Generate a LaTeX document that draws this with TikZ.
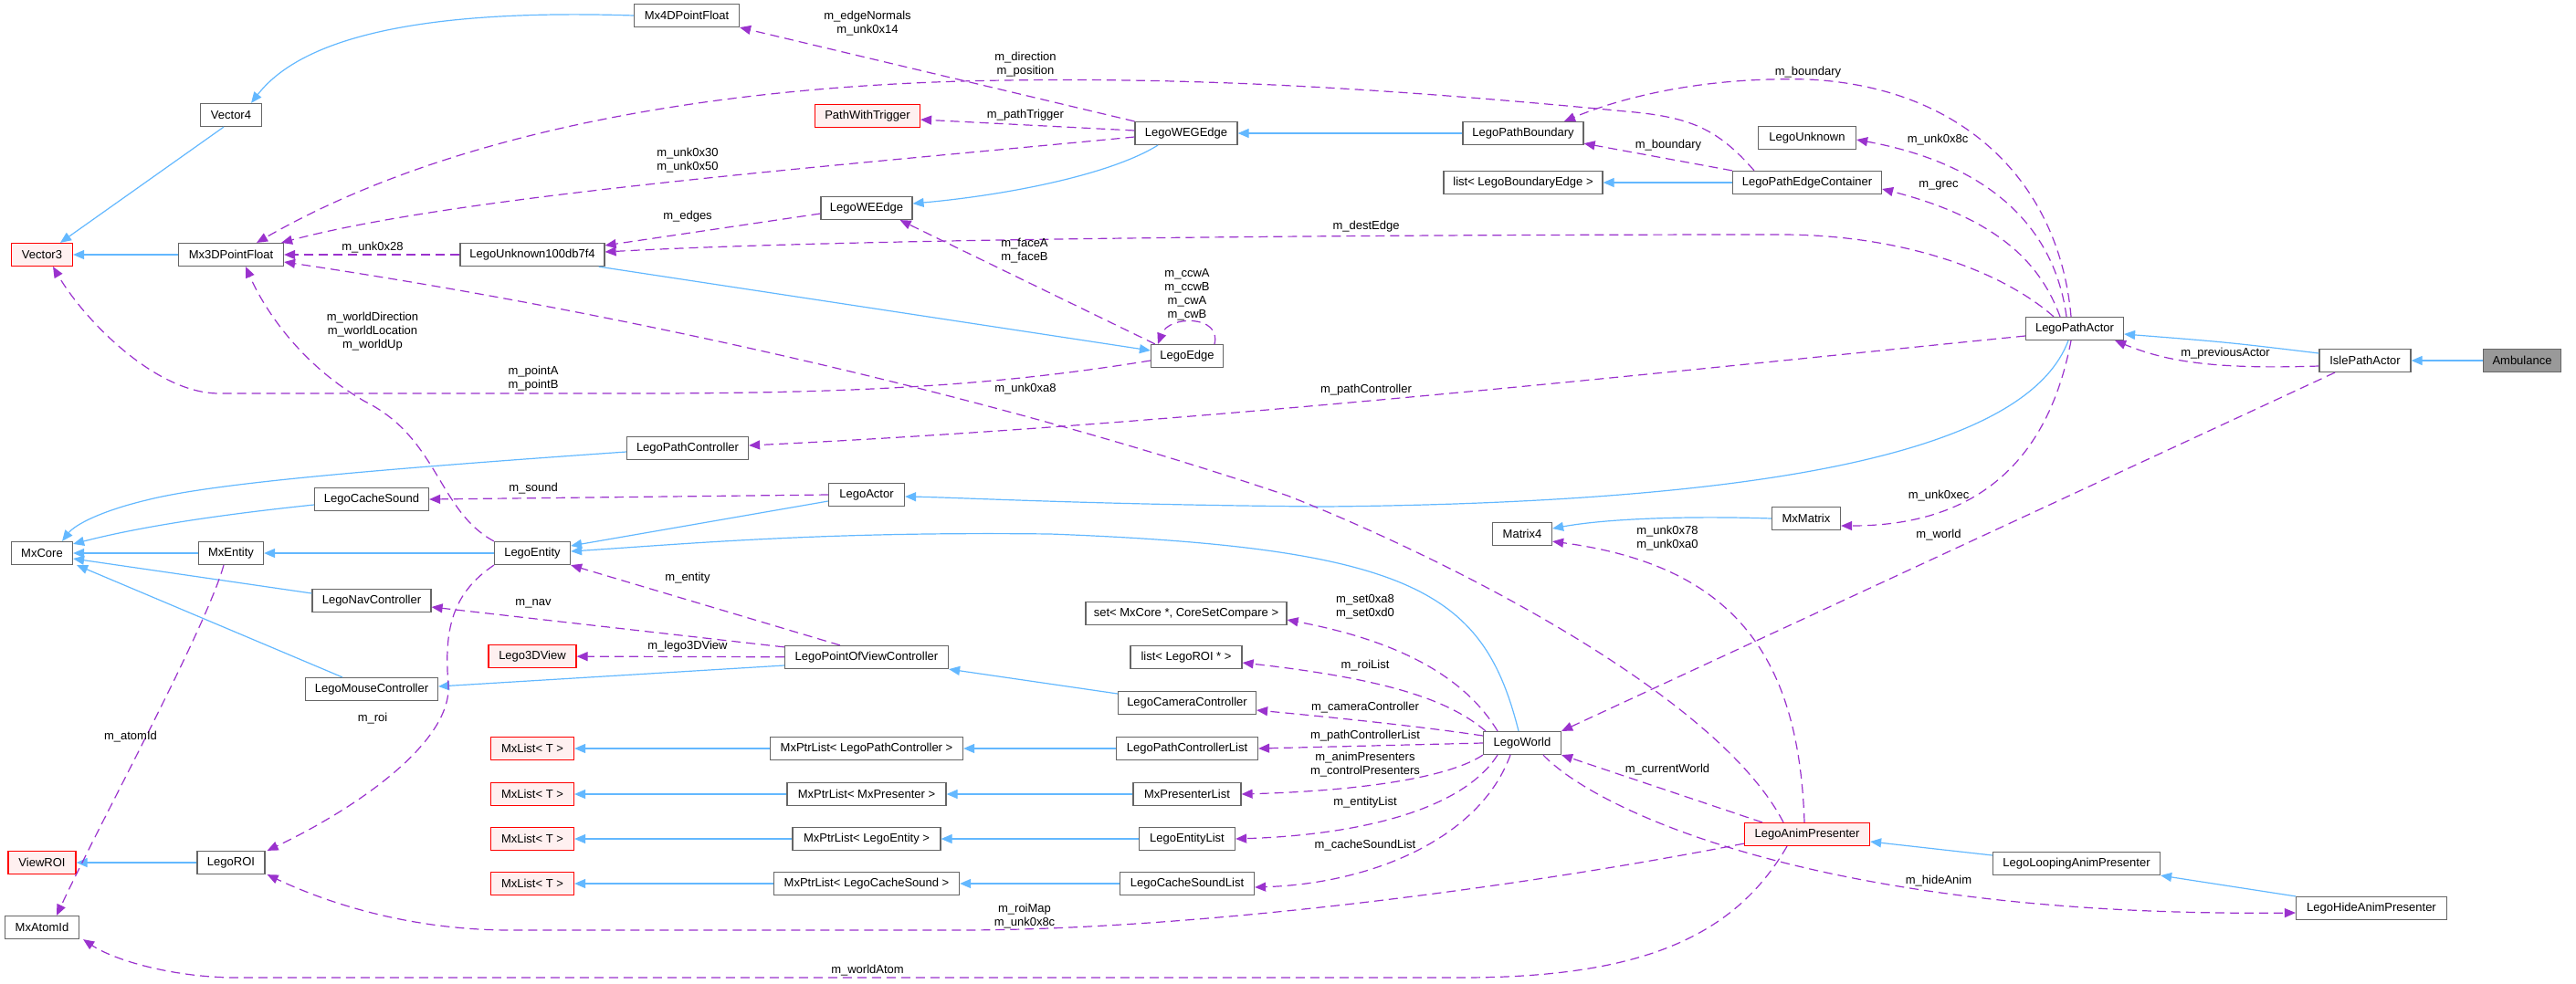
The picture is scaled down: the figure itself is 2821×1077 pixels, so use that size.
\documentclass[tikz,border=0pt]{standalone}
\usepackage{fontspec}
\setmainfont{Liberation Sans}
\usetikzlibrary{arrows.meta}
\definecolor{inhblue}{HTML}{63B8FF}
\definecolor{usepurple}{HTML}{9A32CD}
\definecolor{boxgray}{HTML}{666666}
\definecolor{redfill}{HTML}{FFF0F0}
\definecolor{curfill}{HTML}{999999}

\tikzstyle{cls} = [rectangle, draw=boxgray, fill=white, line width=1.2pt, minimum height=25pt, inner xsep=3pt, inner ysep=0pt, font=\fontsize{13}{15}\selectfont]
\tikzstyle{redcls} = [cls, draw=red, fill=redfill]
\tikzstyle{curcls} = [cls, fill=curfill]
\tikzstyle{inherit} = [draw=inhblue, line width=1.2pt, -{Triangle[length=12pt,width=10pt]}]
\tikzstyle{member} = [draw=usepurple, line width=1.2pt, dash pattern=on 10pt off 6pt, -{Triangle[length=12pt,width=10pt]}]
\tikzstyle{lbl} = [inner sep=0pt, align=center, font=\fontsize{13}{15}\selectfont]

\begin{document}
\begin{tikzpicture}[x=1pt, y=-1pt]
      \useasboundingbox (0,0) rectangle (2821,1077);
      \node[cls, minimum width=115pt] (mxfour) at (752,17) {Mx4DPointFloat};
      \node[cls, minimum width=67pt] (vecfour) at (253,126) {Vector4};
      \node[redcls, minimum width=67pt] (vecthree) at (46,279) {Vector3};
      \node[cls, minimum width=115pt] (mxthree) at (253,279) {Mx3DPointFloat};
      \node[cls, minimum width=158pt] (unkdb) at (583,279) {LegoUnknown100db7f4};
      \node[redcls, minimum width=115pt] (pwt) at (950,127) {PathWithTrigger};
      \node[cls, minimum width=112pt] (wegedge) at (1299,146) {LegoWEGEdge};
      \node[cls, minimum width=100pt] (weedge) at (949,228) {LegoWEEdge};
      \node[cls, minimum width=132pt] (boundary) at (1668,146) {LegoPathBoundary};
      \node[cls, minimum width=107pt] (unknown) at (1979,151) {LegoUnknown};
      \node[cls, minimum width=174pt] (bedgelist) at (1668,200) {list< LegoBoundaryEdge >};
      \node[cls, minimum width=163pt] (edgecont) at (1979,200) {LegoPathEdgeContainer};
      \node[cls, minimum width=107pt] (pathactor) at (2272,360) {LegoPathActor};
      \node[cls, minimum width=100pt] (isleactor) at (2590,395) {IslePathActor};
      \node[curcls, minimum width=85pt] (ambulance) at (2762,395) {Ambulance};
      \node[cls, minimum width=79pt] (edge) at (1300,390) {LegoEdge};
      \node[cls, minimum width=133pt] (pathctrl) at (753,491) {LegoPathController};
      \node[cls, minimum width=83pt] (actor) at (949,542) {LegoActor};
      \node[cls, minimum width=125pt] (cachesound) at (407,547) {LegoCacheSound};
      \node[cls, minimum width=67pt] (mxcore) at (46,606) {MxCore};
      \node[cls, minimum width=71pt] (mxentity) at (253,606) {MxEntity};
      \node[cls, minimum width=83pt] (entity) at (583,606) {LegoEntity};
      \node[cls, minimum width=130pt] (navctrl) at (407,658) {LegoNavController};
      \node[cls, minimum width=220pt] (setcore) at (1299,672) {set< MxCore *, CoreSetCompare >};
      \node[redcls, minimum width=96pt] (lego3d) at (583,719) {Lego3DView};
      \node[cls, minimum width=179pt] (povctrl) at (949,720) {LegoPointOfViewController};
      \node[cls, minimum width=122pt] (roilist) at (1299,720) {list< LegoROI * >};
      \node[cls, minimum width=145pt] (mousectrl) at (407,755) {LegoMouseController};
      \node[cls, minimum width=151pt] (camctrl) at (1300,770) {LegoCameraController};
      \node[cls, minimum width=75pt] (mxmatrix) at (1978,568) {MxMatrix};
      \node[cls, minimum width=65pt] (matrix4) at (1667,585) {Matrix4};
      \node[redcls, minimum width=91pt] (mxlistA) at (583,820) {MxList< T >};
      \node[redcls, minimum width=91pt] (mxlistB) at (583,870) {MxList< T >};
      \node[redcls, minimum width=91pt] (mxlistC) at (583,919) {MxList< T >};
      \node[redcls, minimum width=91pt] (mxlistD) at (583,968) {MxList< T >};
      \node[cls, minimum width=211pt] (ptrpc) at (949,820) {MxPtrList< LegoPathController >};
      \node[cls, minimum width=155pt] (pclist) at (1300,820) {LegoPathControllerList};
      \node[cls, minimum width=174pt] (ptrpres) at (949,870) {MxPtrList< MxPresenter >};
      \node[cls, minimum width=118pt] (preslist) at (1300,870) {MxPresenterList};
      \node[cls, minimum width=162pt] (ptrent) at (949,919) {MxPtrList< LegoEntity >};
      \node[cls, minimum width=105pt] (entlist) at (1300,919) {LegoEntityList};
      \node[cls, minimum width=203pt] (ptrcs) at (949,968) {MxPtrList< LegoCacheSound >};
      \node[cls, minimum width=147pt] (cslist) at (1300,968) {LegoCacheSoundList};
      \node[cls, minimum width=85pt] (world) at (1667,814) {LegoWorld};
      \node[redcls, minimum width=137pt] (animpres) at (1979,914) {LegoAnimPresenter};
      \node[cls, minimum width=183pt] (loopanim) at (2274,946) {LegoLoopingAnimPresenter};
      \node[cls, minimum width=165pt] (hideanim) at (2597,995) {LegoHideAnimPresenter};
      \node[redcls, minimum width=74pt] (viewroi) at (46,945) {ViewROI};
      \node[cls, minimum width=74pt] (legoroi) at (253,945) {LegoROI};
      \node[cls, minimum width=81pt] (atomid) at (46,1016) {MxAtomId};

      % inheritance
      \draw[inherit] ([xshift=-8pt]vecfour.south) -- ([xshift=20pt]vecthree.north);
      \draw[inherit] (mxfour.west) .. controls (420,8) and (320,55) .. ([xshift=22pt]vecfour.north);
      \draw[inherit] (mxthree) -- (vecthree);
      \draw[inherit] ([xshift=-31pt]wegedge.south) .. controls (1215,192) and (1100,214) .. ([yshift=5pt]weedge.east);
      \draw[inherit] (boundary) -- (wegedge);
      \draw[inherit] (edgecont) -- (bedgelist);
      \draw[inherit] ([xshift=-7pt]unkdb.south east) -- ([yshift=6pt]edge.west);
      \draw[inherit] ([yshift=8pt]isleactor.west) .. controls (2440,375) .. ([yshift=-6pt]pathactor.east);
      \draw[inherit] (ambulance) -- (isleactor);
      \draw[inherit] ([xshift=-7pt]pathactor.south) .. controls (2225,480) and (2000,550) .. (1450,555) .. controls (1200,553) and (1050,545) .. ([yshift=-2pt]actor.east);
      \draw[inherit] ([yshift=-7pt]actor.west) -- ([yshift=8pt]entity.east);
      \draw[inherit] ([xshift=-4pt]world.north) .. controls (1625,650) and (1550,600) .. (1150,585) .. controls (900,582) and (750,596) .. ([yshift=2pt]entity.east);
      \draw[inherit] (entity) -- (mxentity);
      \draw[inherit] (mxentity) -- (mxcore);
      \draw[inherit] ([yshift=-6pt]cachesound.west) .. controls (230,565) and (150,578) .. ([yshift=-3pt]mxcore.north east);
      \draw[inherit] ([yshift=8pt]navctrl.west) -- ([yshift=-6pt]mxcore.east);
      \draw[inherit] ([xshift=-32pt]mousectrl.north) -- ([xshift=4pt]mxcore.south east);
      \draw[inherit] ([yshift=-4pt]pathctrl.west) .. controls (400,515) and (230,530) .. (160,548) .. controls (110,560) and (82,575) .. ([xshift=22pt]mxcore.north);
      \draw[inherit] ([yshift=-9pt]povctrl.west) -- ([yshift=3pt]mousectrl.east);
      \draw[inherit] ([yshift=10pt]camctrl.west) -- (povctrl.south east);
      \draw[inherit] (ptrpc) -- (mxlistA);
      \draw[inherit] (ptrpres) -- (mxlistB);
      \draw[inherit] (ptrent) -- (mxlistC);
      \draw[inherit] (ptrcs) -- (mxlistD);
      \draw[inherit] (pclist) -- (ptrpc);
      \draw[inherit] (preslist) -- (ptrpres);
      \draw[inherit] (entlist) -- (ptrent);
      \draw[inherit] (cslist) -- (ptrcs);
      \draw[inherit] (legoroi) -- (viewroi);
      \draw[inherit] (mxmatrix.west) .. controls (1850,565) and (1760,568) .. ([yshift=6pt]matrix4.east);
      \draw[inherit] ([yshift=9pt]loopanim.west) -- ([yshift=-8pt]animpres.east);
      \draw[inherit] (hideanim.north west) -- (loopanim.south east);

      % members
      \draw[member] (wegedge.north west) -- (mxfour.south east);
      \draw[member] ([xshift=-58pt]edgecont.north) .. controls (1880,140) and (1850,128) .. (1780,122) .. controls (1500,95) and (1300,85) .. (1100,88) .. controls (800,92) and (500,140) .. ([xshift=28pt]mxthree.north);
      \draw[member] ([yshift=3pt]wegedge.west) -- ([yshift=-4pt]pwt.east);
      \draw[member] ([yshift=-4pt]wegedge.west) .. controls (900,183) and (500,215) .. ([xshift=-3pt]mxthree.north east);
      \draw[member] ([xshift=-4pt]pathactor.north) .. controls (2255,200) and (2150,95) .. (1980,87) .. controls (1870,84) and (1780,105) .. ([xshift=45pt]boundary.north);
      \draw[member] (edgecont.north west) -- ([yshift=2pt]boundary.south east);
      \draw[member] ([xshift=-9pt]pathactor.north) .. controls (2250,250) and (2180,180) .. ([yshift=-2pt]unknown.east);
      \draw[member] ([xshift=-16pt]pathactor.north) .. controls (2235,290) and (2190,240) .. ([yshift=-7pt]edgecont.east);
      \draw[member] ([xshift=-23pt]pathactor.north) .. controls (2190,295) and (2080,257) .. (1950,257) .. controls (1400,257) and (900,263) .. ([yshift=3pt]unkdb.east);
      \draw[member] ([yshift=-6pt]weedge.west) -- ([yshift=-3pt]unkdb.north east);
      \draw[member] (unkdb) -- (mxthree);
      \draw[member] ([xshift=5pt]edge.north west) -- ([xshift=-14pt]weedge.south east);
      \draw[member] ([xshift=30pt]edge.north) .. controls (1338,345) and (1280,345) .. ([xshift=-32pt]edge.north);
      \draw[member] ([yshift=-5pt]edge.west) .. controls (1100,421) and (950,431) .. (700,431) -- (240,431) .. controls (170,431) and (92,350) .. ([xshift=12pt]vecthree.south);
      \draw[member] ([yshift=-8pt]pathactor.west) .. controls (1800,410) and (1300,465) .. ([yshift=3pt]pathctrl.east);
      \draw[member] ([xshift=-26pt]animpres.north) .. controls (1880,760) and (1580,610) .. (1410,543) .. controls (1100,438) and (700,345) .. ([yshift=-8pt]mxthree.east);
      \draw[member] (entity.north west) .. controls (480,560) and (480,480) .. (400,440) .. controls (330,400) and (290,340) .. ([xshift=16pt]mxthree.south);
      \draw[member] (actor.west) -- (cachesound.east);
      \draw[member] ([xshift=-29pt]povctrl.north) -- (entity.south east);
      \draw[member] ([yshift=-2pt]povctrl.north west) -- ([yshift=-7pt]navctrl.east);
      \draw[member] (povctrl) -- (lego3d);
      \draw[member] (entity.south west) .. controls (495,650) and (486,690) .. (491,750) .. controls (495,815) and (385,888) .. ([xshift=2pt]legoroi.north east);
      \draw[member] ([xshift=-8pt]mxentity.south) .. controls (225,690) and (110,900) .. ([xshift=16pt]atomid.north);
      \draw[member] ([xshift=-27pt]world.north) .. controls (1600,735) and (1520,700) .. ([yshift=-7pt]setcore.east);
      \draw[member] ([xshift=-40pt]world.north) .. controls (1590,770) and (1530,745) .. ([yshift=-6pt]roilist.east);
      \draw[member] ([yshift=8pt]world.west) .. controls (1550,795) and (1450,785) .. ([yshift=-8pt]camctrl.east);
      \draw[member] (world.west) -- (pclist.east);
      \draw[member] (world.south west) .. controls (1590,850) and (1500,866) .. (preslist.east);
      \draw[member] ([xshift=-27pt]world.south) .. controls (1600,890) and (1480,915) .. (entlist.east);
      \draw[member] ([xshift=-13pt]world.south) .. controls (1620,920) and (1500,968) .. ([yshift=-4pt]cslist.east);
      \draw[member] ([xshift=20pt]animpres.north west) -- (world.south east);
      \draw[member] ([xshift=23pt]world.south) .. controls (1750,890) and (2000,1005) .. ([yshift=-5pt]hideanim.west);
      \draw[member] ([yshift=3pt]animpres.south west) .. controls (1650,975) and (1300,1019) .. (1050,1019) -- (560,1019) .. controls (450,1019) and (360,990) .. ([xshift=2pt]legoroi.south east);
      \draw[member] ([xshift=-22pt]animpres.south) .. controls (1900,1025) and (1800,1071) .. (1600,1071) -- (260,1071) .. controls (190,1071) and (125,1052) .. ([xshift=4pt]atomid.south east);
      \draw[member] ([xshift=-3pt]animpres.north) .. controls (1970,720) and (1900,620) .. ([yshift=5pt]matrix4.south east);
      \draw[member] ([xshift=-33pt]isleactor.south) -- (world.north east);
      \draw[member] ([xshift=-4pt]pathactor.south) .. controls (2240,520) and (2150,576) .. ([yshift=-8pt]mxmatrix.east);
      \draw[member] ([yshift=-6pt]isleactor.west) .. controls (2420,405) and (2370,395) .. ([xshift=-10pt]pathactor.south east);

      \node[lbl] (l-edgenorm) at (950,26) {m\_edgeNormals\\m\_unk0x14};
      \node[lbl] (l-dirpos) at (1123,71) {m\_direction\\m\_position};
      \node[lbl] (l-trigger) at (1123,126) {m\_pathTrigger};
      \node[lbl] (l-unk30) at (753,176) {m\_unk0x30\\m\_unk0x50};
      \node[lbl] (l-bndtop) at (1980,79) {m\_boundary};
      \node[lbl] (l-bndmid) at (1827,159) {m\_boundary};
      \node[lbl] (l-unk8c) at (2122,153) {m\_unk0x8c};
      \node[lbl] (l-grec) at (2123,203) {m\_grec};
      \node[lbl] (l-dest) at (1496,248) {m\_destEdge};
      \node[lbl] (l-edges) at (753,237) {m\_edges};
      \node[lbl] (l-unk28) at (408,271) {m\_unk0x28};
      \node[lbl] (l-faces) at (1122,275) {m\_faceA\\m\_faceB};
      \node[lbl] (l-cw) at (1300,323) {m\_ccwA\\m\_ccwB\\m\_cwA\\m\_cwB};
      \node[lbl] (l-world3d) at (408,363) {m\_worldDirection\\m\_worldLocation\\m\_worldUp};
      \node[lbl] (l-points) at (584,415) {m\_pointA\\m\_pointB};
      \node[lbl] (l-pathctrl) at (1496,427) {m\_pathController};
      \node[lbl] (l-unka8) at (1123,426) {m\_unk0xa8};
      \node[lbl] (l-sound) at (584,535) {m\_sound};
      \node[lbl] (l-entity) at (753,633) {m\_entity};
      \node[lbl] (l-nav) at (584,661) {m\_nav};
      \node[lbl] (l-view) at (753,708) {m\_lego3DView};
      \node[lbl] (l-roi) at (408,787) {m\_roi};
      \node[lbl] (l-atom) at (143,807) {m\_atomId};
      \node[lbl] (l-unkec) at (2123,543) {m\_unk0xec};
      \node[lbl] (l-unk78) at (1826,590) {m\_unk0x78\\m\_unk0xa0};
      \node[lbl] (l-world) at (2123,586) {m\_world};
      \node[lbl] (l-prev) at (2437,387) {m\_previousActor};
      \node[lbl] (l-set) at (1495,665) {m\_set0xa8\\m\_set0xd0};
      \node[lbl] (l-roilist) at (1495,729) {m\_roiList};
      \node[lbl] (l-cam) at (1495,775) {m\_cameraController};
      \node[lbl] (l-pclist) at (1495,806) {m\_pathControllerList};
      \node[lbl] (l-pres) at (1495,838) {m\_animPresenters\\m\_controlPresenters};
      \node[lbl] (l-entlist) at (1495,879) {m\_entityList};
      \node[lbl] (l-cslist) at (1495,926) {m\_cacheSoundList};
      \node[lbl] (l-curworld) at (1826,843) {m\_currentWorld};
      \node[lbl] (l-hide) at (2123,965) {m\_hideAnim};
      \node[lbl] (l-roimap) at (1122,1004) {m\_roiMap\\m\_unk0x8c};
      \node[lbl] (l-atomw) at (950,1063) {m\_worldAtom};
\end{tikzpicture}
\end{document}
